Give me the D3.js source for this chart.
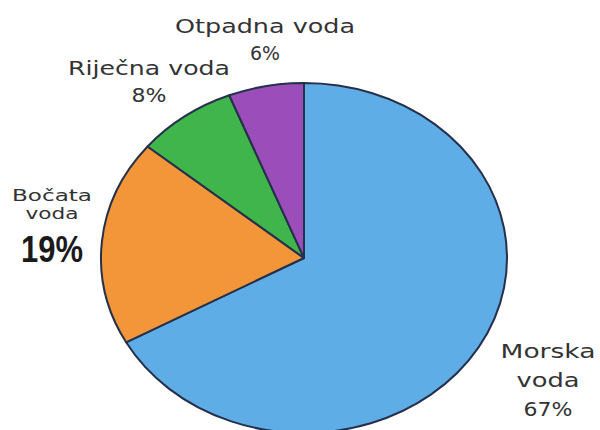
<!DOCTYPE html>
<html>
<head>
<meta charset="utf-8">
<script src="https://cdn.jsdelivr.net/npm/d3@7"></script>
<style>
  body { margin: 0; background: #fff; }
</style>
</head>
<body>
<div id="chart"></div>
<script>
const categories = ["Morska voda", "Bočata voda", "Riječna voda", "Otpadna voda"];
const values = [67, 19, 8, 6];
const colors = ["#5fade6", "#f39539", "#3fb54c", "#9b4dba"];

// label lines per slice, in the picture's layout
const labelLines = [
    ["Morska", "voda", "67%"],
    ["Bočata", "voda", "19%"],
    ["Riječna voda", "8%"],
    ["Otpadna voda", "6%"]
];

const width = 600,
    height = 430,
    radius = 175,
    stretch = 203 / 175,
    cx = 304,
    cy = 258;

const data = categories.map((c, i) => ({ name: c, value: values[i], color: colors[i], lines: labelLines[i] }));

const svg = d3.select("#chart").append("svg")
    .attr("width", width)
    .attr("height", height);

const pie = d3.pie()
    .value(d => d.value)
    .sort(null);

const arc = d3.arc()
    .innerRadius(0)
    .outerRadius(radius);

const g = svg.append("g")
    .attr("transform", `translate(${cx},${cy}) scale(${stretch},1)`);

g.selectAll("path")
    .data(pie(data))
    .enter()
    .append("path")
    .attr("d", arc)
    .attr("fill", d => d.data.color)
    .attr("stroke", "#25304a")
    .attr("stroke-width", 2)
    .attr("vector-effect", "non-scaling-stroke")
    .attr("stroke-linejoin", "round");

// Labels: center x, first baseline, line spacing, font size, widths
const labelPos = [
    { x: 548, y: 358, dy: 29, size: 19, widths: [95, 63, 49] },
    { x: 52, y: 201, dy: 18, size: 15, widths: [80, 53] },
    { x: 149, y: 75, dy: 27, size: 19, widths: [162, 35] },
    { x: 265, y: 33, dy: 27, size: 19, widths: [180, 30] }
];

data.forEach((d, i) => {
    const p = labelPos[i];
    d.lines.forEach((line, j) => {
        const big = (i === 1 && j === 2);
        svg.append("text")
            .attr("x", p.x)
            .attr("y", big ? 262 : p.y + j * p.dy)
            .attr("text-anchor", "middle")
            .attr("textLength", big ? 62 : p.widths[j])
            .attr("lengthAdjust", "spacingAndGlyphs")
            .style("font-family", big ? "'Liberation Sans Narrow', 'Liberation Sans', Arial, sans-serif" : "'DejaVu Sans', sans-serif")
            .style("font-size", big ? "37px" : p.size + "px")
            .style("font-weight", big ? "bold" : "normal")
            .style("fill", big ? "#1a1a1a" : "#333")
            .text(line);
    });
});
</script>
</body>
</html>
